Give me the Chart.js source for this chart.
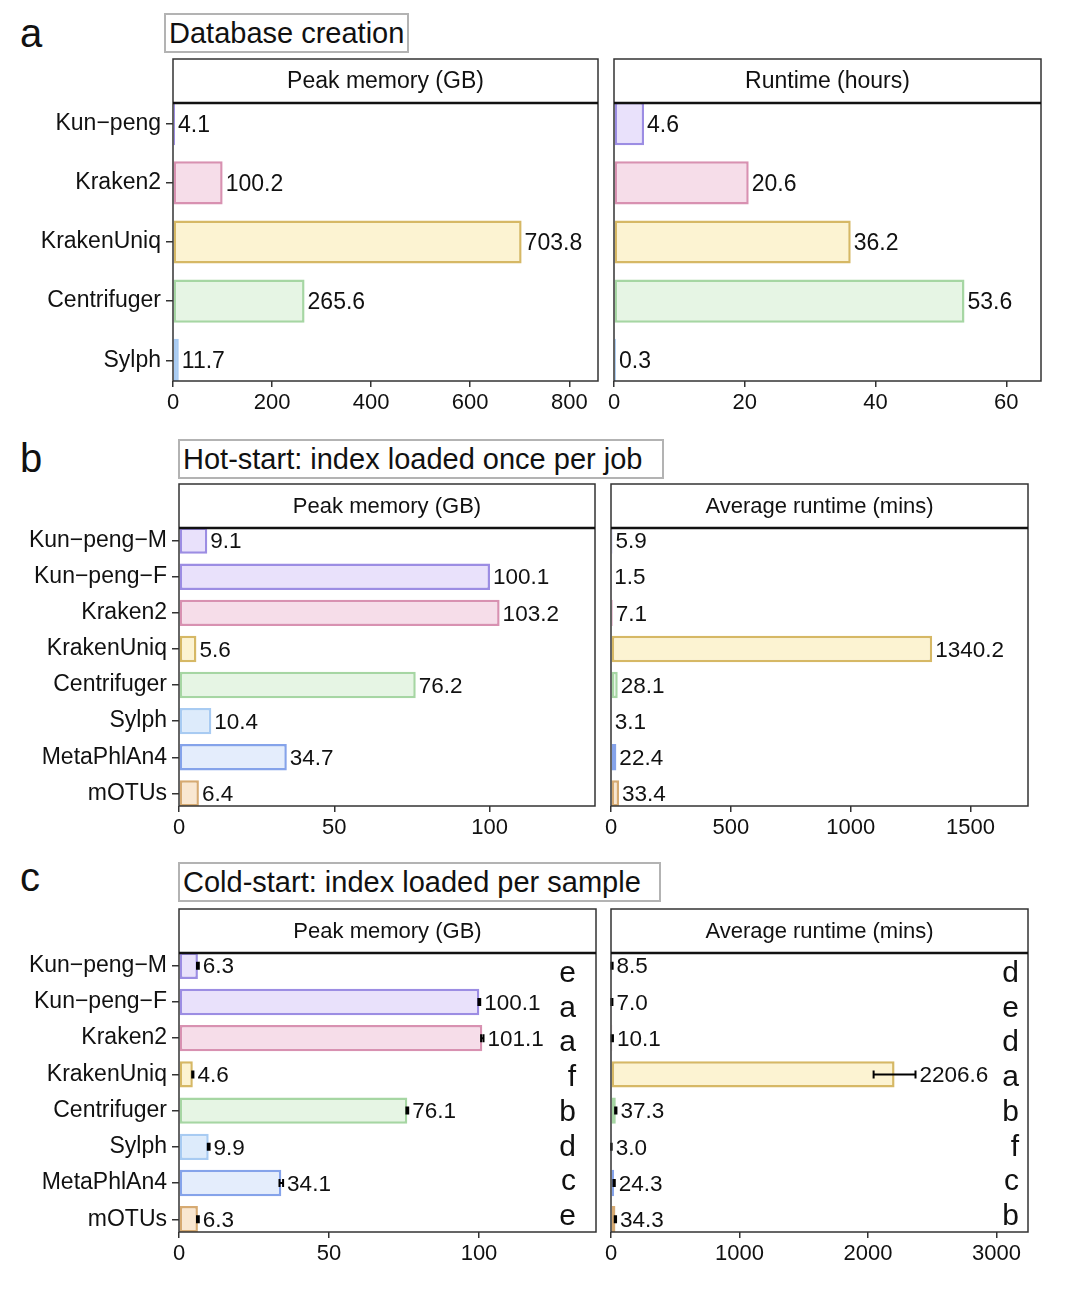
<!DOCTYPE html>
<html><head><meta charset="utf-8">
<script src="https://cdn.jsdelivr.net/npm/chart.js@4.4.1/dist/chart.umd.min.js"></script>
<style>
body{margin:0;background:#fff;}
#wrap{position:relative;width:1080px;height:1289px;overflow:hidden;background:#fff;font-family:'Liberation Sans',Arial,Helvetica,sans-serif;color:#111;}
canvas{position:absolute;left:0;top:0;}
.lt{position:absolute;font-size:40px;line-height:40px;}
.tb{position:absolute;box-sizing:border-box;height:40px;border:2px solid #b3b3b3;font-size:29px;line-height:36px;padding-left:3px;white-space:nowrap;}
</style></head>
<body><div id="wrap">
<div class="lt" style="left:20px;top:13px">a</div>
<div class="tb" style="left:164px;top:13px;width:245px">Database creation</div>
<div class="lt" style="left:20px;top:438px">b</div>
<div class="tb" style="left:178px;top:439px;width:486px">Hot-start: index loaded once per job</div>
<div class="lt" style="left:20px;top:857px">c</div>
<div class="tb" style="left:178px;top:862px;width:483px">Cold-start: index loaded per sample</div>
<canvas id="a1" width="1080" height="1289"></canvas>
<canvas id="a2" width="1080" height="1289"></canvas>
<canvas id="b1" width="1080" height="1289"></canvas>
<canvas id="b2" width="1080" height="1289"></canvas>
<canvas id="c1" width="1080" height="1289"></canvas>
<canvas id="c2" width="1080" height="1289"></canvas>
</div>
<script>
const FONT = "'Liberation Sans', Arial, Helvetica, sans-serif";

// ---- categories ----
const catsA = ['Kun−peng','Kraken2','KrakenUniq','Centrifuger','Sylph'];
const catsBC = ['Kun−peng−M','Kun−peng−F','Kraken2','KrakenUniq','Centrifuger','Sylph','MetaPhlAn4','mOTUs'];

// ---- colours per category ----
const fillA = ['#E9E1FB','#F6DDE9','#FCF3D2','#E6F5E4','#DDEBFB'];
const lineA = ['#9C8DE3','#D891B1','#D6B865','#A6D6A3','#A8CBF2'];
const fillBC = ['#E9E1FB','#E9E1FB','#F6DDE9','#FCF3D2','#E6F5E4','#DDEBFB','#E4EDFC','#F9E7D1'];
const lineBC = ['#9C8DE3','#9C8DE3','#D891B1','#D6B865','#A6D6A3','#A8CBF2','#85A3EA','#D6AA72'];

// ---- a: database creation ----
const memA = [4.1, 100.2, 703.8, 265.6, 11.7];
const runA = [4.6, 20.6, 36.2, 53.6, 0.3];
const ticksMemA = [0, 200, 400, 600, 800];
const ticksRunA = [0, 20, 40, 60];

// ---- b: hot-start ----
const memB = [9.1, 100.1, 103.2, 5.6, 76.2, 10.4, 34.7, 6.4];
const runB = [5.9, 1.5, 7.1, 1340.2, 28.1, 3.1, 22.4, 33.4];
const ticksMemB = [0, 50, 100];
const ticksRunB = [0, 500, 1000, 1500];

// ---- c: cold-start ----
const memC = [6.3, 100.1, 101.1, 4.6, 76.1, 9.9, 34.1, 6.3];
const memCerr = [0.3, 0.3, 0.4, 0.2, 0.3, 0.3, 0.6, 0.3];
const memClet = ['e','a','a','f','b','d','c','e'];
const runC = [8.5, 7.0, 10.1, 2206.6, 37.3, 3.0, 24.3, 34.3];
const runCerr = [4, 4, 5, 163, 5, 2, 5, 5];
const runClet = ['d','e','d','a','b','f','c','b'];
const ticksMemC = [0, 50, 100];
const ticksRunC = [0, 1000, 2000, 3000];

const STRIP = 44, XH = 45, YW = 170;

function decor(s) {
  return {
    id: 'decor',
    afterDatasetsDraw(chart) {
      const ctx = chart.ctx, xs = chart.scales.x, ys = chart.scales.y;
      const {top, bottom, right} = chart.chartArea;
      ctx.save();
      s.values.forEach((v, i) => {
        const e = s.errs ? s.errs[i] : 0;
        const y = ys.getPixelForValue(i);
        if (s.errs) {
          const lo = xs.getPixelForValue(v - e), hi = xs.getPixelForValue(v + e);
          ctx.strokeStyle = '#000'; ctx.lineWidth = 2;
          ctx.beginPath();
          ctx.moveTo(lo, y); ctx.lineTo(hi, y);
          ctx.moveTo(lo, y - 4); ctx.lineTo(lo, y + 4);
          ctx.moveTo(hi, y - 4); ctx.lineTo(hi, y + 4);
          ctx.stroke();
        }
        ctx.fillStyle = '#111';
        ctx.font = s.valSize + 'px ' + FONT;
        ctx.textAlign = 'left'; ctx.textBaseline = 'middle';
        ctx.fillText(v.toFixed(1), xs.getPixelForValue(v + e) + (s.errs ? 4 : 3), y + 1.5);
      });
      if (s.letters) {
        const n = s.letters.length;
        ctx.font = '30px ' + FONT;
        ctx.textAlign = 'right'; ctx.textBaseline = 'alphabetic';
        const step = (bottom - top - 36) / (n - 1);
        s.letters.forEach((l, i) => ctx.fillText(l, right - s.letterGap, top + 29 + i * step));
      }
      ctx.restore();
    },
    afterDraw(chart) {
      const ctx = chart.ctx;
      const {left, top, right, bottom} = chart.chartArea;
      ctx.save();
      ctx.fillStyle = '#fff';
      ctx.fillRect(left, top - STRIP, right - left, STRIP);
      ctx.strokeStyle = '#333'; ctx.lineWidth = 1.5;
      ctx.strokeRect(left, top - STRIP, right - left, bottom - top + STRIP);
      ctx.strokeStyle = '#111'; ctx.lineWidth = 2.5;
      ctx.beginPath(); ctx.moveTo(left, top); ctx.lineTo(right, top); ctx.stroke();
      ctx.fillStyle = '#111';
      ctx.font = s.stripSize + 'px ' + FONT;
      ctx.textAlign = 'center'; ctx.textBaseline = 'middle';
      ctx.fillText(s.strip, (left + right) / 2, top - STRIP / 2 + 1);
      ctx.restore();
    }
  };
}

function makeChart(id, s) {
  const n = s.cats.length;
  const data = s.values.map((v, i) => ({x: v, y: i}));
  new Chart(document.getElementById(id), {
    type: 'bar',
    data: {datasets: [{
      data,
      backgroundColor: s.fill, borderColor: s.line, borderWidth: 2.5,
      borderSkipped: false, barPercentage: 0.73, categoryPercentage: 1
    }]},
    options: {
      indexAxis: 'y', responsive: false, animation: false, events: [],
      layout: {padding: {
        left: s.showY ? s.frame.l - YW : s.frame.l,
        right: 1080 - s.frame.r,
        top: s.frame.t + STRIP,
        bottom: 1289 - s.frame.b - XH
      }},
      plugins: {legend: {display: false}, tooltip: {enabled: false}},
      scales: {
        x: {
          type: 'linear', min: 0, max: s.xmax, position: 'bottom', offset: false,
          afterBuildTicks: a => { a.ticks = s.ticks.map(v => ({value: v})); },
          afterFit: a => { a.height = XH; },
          grid: {drawOnChartArea: false, drawTicks: true, tickLength: 6, color: '#333', lineWidth: 1.5, offset: false},
          border: {display: false},
          ticks: {autoSkip: false, maxRotation: 0, padding: 3, color: '#111',
            font: {family: FONT, size: s.tickSize}, callback: v => String(v)}
        },
        y: {
          type: 'linear', reverse: true, min: -0.35, max: n - 0.65, display: s.showY,
          offset: false,
          afterBuildTicks: a => { a.ticks = s.cats.map((c, i) => ({value: i})); },
          afterFit: a => { a.width = s.showY ? YW : 0; },
          grid: {drawOnChartArea: false, drawTicks: true, tickLength: 7, color: '#333', lineWidth: 1.5, offset: false},
          border: {display: false},
          ticks: {autoSkip: false, padding: 5, color: '#111',
            font: {family: FONT, size: 23}, callback: v => s.cats[v]}
        }
      }
    },
    plugins: [decor(s)]
  });
}

makeChart('a1', {cats: catsA, values: memA, fill: fillA, line: lineA, ticks: ticksMemA, xmax: 858,
  frame: {l: 173, t: 59, r: 598, b: 381}, strip: 'Peak memory (GB)', showY: true, stripSize: 23, tickSize: 22, valSize: 23});
makeChart('a2', {cats: catsA, values: runA, fill: fillA, line: lineA, ticks: ticksRunA, xmax: 65.3,
  frame: {l: 614, t: 59, r: 1041, b: 381}, strip: 'Runtime (hours)', showY: false, stripSize: 23, tickSize: 22, valSize: 23});
makeChart('b1', {cats: catsBC, values: memB, fill: fillBC, line: lineBC, ticks: ticksMemB, xmax: 133.9,
  frame: {l: 179, t: 484, r: 595, b: 806}, strip: 'Peak memory (GB)', showY: true, stripSize: 22, tickSize: 22, valSize: 22.5});
makeChart('b2', {cats: catsBC, values: runB, fill: fillBC, line: lineBC, ticks: ticksRunB, xmax: 1740,
  frame: {l: 611, t: 484, r: 1028, b: 806}, strip: 'Average runtime (mins)', showY: false, stripSize: 22, tickSize: 22, valSize: 22.5});
makeChart('c1', {cats: catsBC, values: memC, errs: memCerr, letters: memClet, letterGap: 20, fill: fillBC, line: lineBC, ticks: ticksMemC, xmax: 139,
  frame: {l: 179, t: 909, r: 596, b: 1232}, strip: 'Peak memory (GB)', showY: true, stripSize: 22, tickSize: 22, valSize: 22.5});
makeChart('c2', {cats: catsBC, values: runC, errs: runCerr, letters: runClet, letterGap: 9, fill: fillBC, line: lineBC, ticks: ticksRunC, xmax: 3245,
  frame: {l: 611, t: 909, r: 1028, b: 1232}, strip: 'Average runtime (mins)', showY: false, stripSize: 22, tickSize: 22, valSize: 22.5});
</script>
</body></html>
